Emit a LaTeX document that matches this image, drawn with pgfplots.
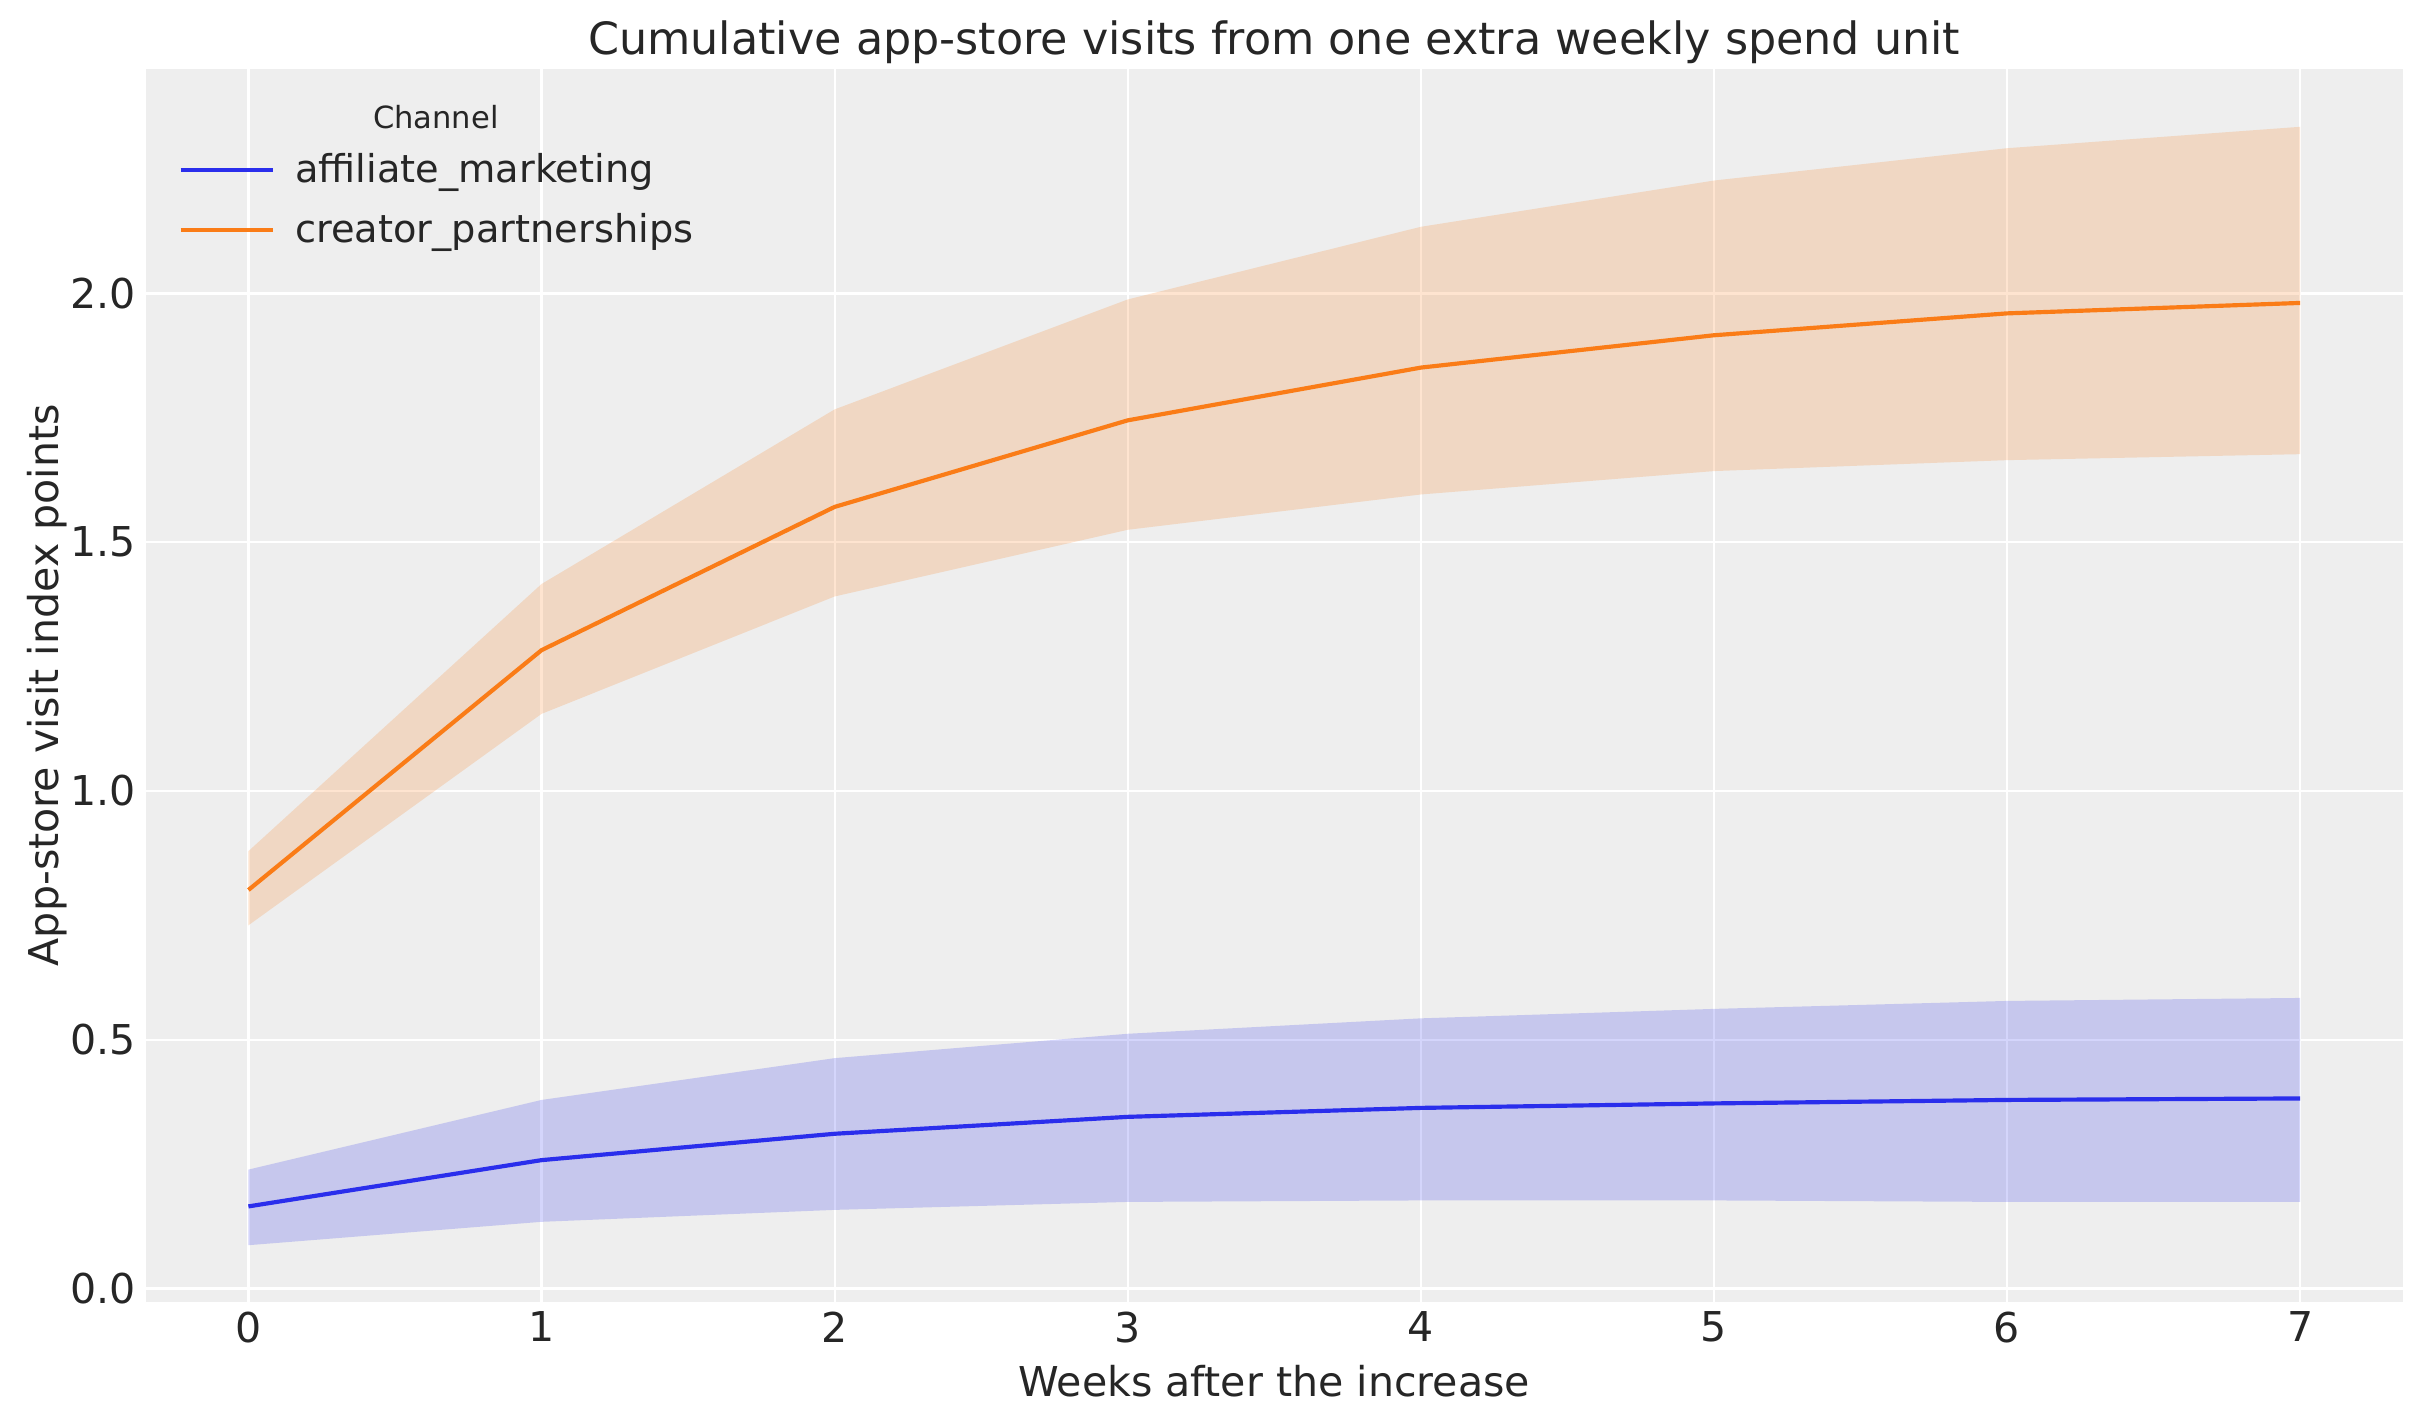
\documentclass[border=0pt]{standalone}
\usepackage{fontspec}
\setmainfont{DejaVu Sans}
\usepackage{pgfplots}
\pgfplotsset{compat=1.18}
\definecolor{bg}{HTML}{EEEEEE}
\definecolor{cblue}{HTML}{2A2EEC}
\definecolor{corange}{HTML}{FA7C17}
\definecolor{txt}{HTML}{262626}
\begin{document}
\begin{tikzpicture}
\path[use as bounding box] (-52.5pt,-43.6pt) rectangle (819.8pt,468.7pt);
\begin{axis}[
  scale only axis, width=812.5pt, height=444pt,
  xmin=-0.35, xmax=7.35, ymin=-0.027, ymax=2.452,
  axis background/.style={fill=bg},
  axis line style={draw=none},
  grid=major, major grid style={white, line width=0.8pt},
  tick style={draw=none},
  xtick={0,1,2,3,4,5,6,7}, ytick={0,0.5,1,1.5,2},
  /pgf/number format/assume math mode=true,
  yticklabel style={/pgf/number format/.cd, fixed, fixed zerofill, precision=1},
  ticklabel style={font=\fontsize{14.8}{17}\selectfont, text=txt},
  title={Cumulative app-store visits from one extra weekly spend unit},
  title style={font=\fontsize{16}{19}\selectfont, text=txt, at={(axis description cs:0.5,1.008)}, anchor=center},
  xlabel={Weeks after the increase},
  xlabel style={font=\fontsize{14.8}{17}\selectfont, text=txt, at={(axis description cs:0.5,-0.064)}, anchor=center},
  ylabel={App-store visit index points},
  ylabel style={font=\fontsize{14.8}{17}\selectfont, text=txt, at={(axis description cs:-0.0435,0.5)}, anchor=center},
  legend image code/.code={\draw[#1] (0pt,0pt) -- (33.4pt,0pt);},
  legend style={draw=none, fill=none, at={(axis description cs:0.0142,0.932)}, anchor=north west,
    font=\fontsize{13.8}{16}\selectfont, text=txt, row sep=9.6pt, inner sep=0pt,
    nodes={inner sep=0pt}},
  legend cell align=left,
]
% bands
\addplot[draw=none, fill=cblue, fill opacity=0.2, forget plot] coordinates {
(0,0.239) (1,0.379) (2,0.463) (3,0.512) (4,0.543) (5,0.562) (6,0.578) (7,0.584)
(7,0.174) (6,0.174) (5,0.177) (4,0.177) (3,0.174) (2,0.158) (1,0.134) (0,0.087)};
\addplot[draw=none, fill=corange, fill opacity=0.2, forget plot] coordinates {
(0,0.879) (1,1.416) (2,1.767) (3,1.988) (4,2.134) (5,2.227) (6,2.292) (7,2.335)
(7,1.677) (6,1.665) (5,1.643) (4,1.596) (3,1.525) (2,1.391) (1,1.155) (0,0.730)};
% means
\addplot[cblue, line width=1.5pt] coordinates {
(0,0.165) (1,0.258) (2,0.311) (3,0.345) (4,0.363) (5,0.372) (6,0.379) (7,0.382)};
\addlegendentry{\hspace{7.2pt}affiliate\_marketing}
\addplot[corange, line width=1.5pt] coordinates {
(0,0.801) (1,1.283) (2,1.571) (3,1.745) (4,1.851) (5,1.916) (6,1.960) (7,1.981)};
\addlegendentry{\hspace{7.2pt}creator\_partnerships}
\node[font=\fontsize{11}{13}\selectfont, text=txt] at (axis description cs:0.1285,0.9604) {Channel};
\end{axis}
\end{tikzpicture}
\end{document}
